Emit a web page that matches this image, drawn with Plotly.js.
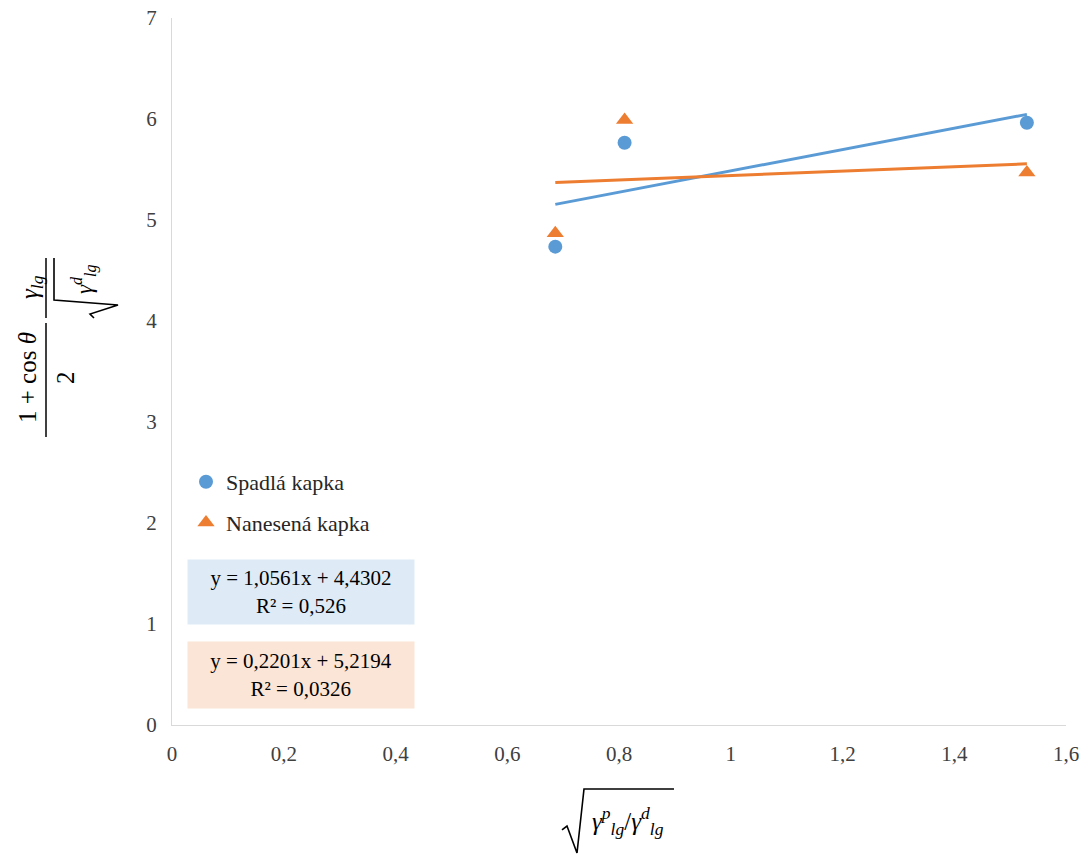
<!DOCTYPE html>
<html>
<head>
<meta charset="utf-8">
<script src="https://cdn.plot.ly/plotly-3.0.1.min.js"></script>
<style>html,body{margin:0;padding:0;background:#fff}#chart{width:1089px;height:859px}</style>
</head>
<body>
<div id="chart"></div>
<script>
// Data
const seriesNames = ["Spadlá kapka", "Nanesená kapka"];
const xSpadla = [0.686, 0.810, 1.530];
const ySpadla = [4.736, 5.765, 5.963];
const xNanesena = [0.686, 0.810, 1.530];
const yNanesena = [4.87, 5.99, 5.47];
// Trendline equations shown on the chart
const trendSlope = [1.0561, 0.2201];
const trendIntercept = [4.4302, 5.2194];
const trendLabels = ["y = 1,0561x + 4,4302<br>R² = 0,526", "y = 0,2201x + 5,2194<br>R² = 0,0326"];
const xTicks = [0, 0.2, 0.4, 0.6, 0.8, 1, 1.2, 1.4, 1.6];
const yTicks = [0, 1, 2, 3, 4, 5, 6, 7];

const colors = ["#5B9BD5", "#ED7D31"];
const boxColors = ["#DEEBF7", "#FBE5D6"];
const serif = "Liberation Serif";

function trendLine(xs, i) {
  const lo = Math.min(...xs), hi = Math.max(...xs);
  return {x: [lo, hi], y: [trendSlope[i] * lo + trendIntercept[i], trendSlope[i] * hi + trendIntercept[i]]};
}
const t0 = trendLine(xSpadla, 0), t1 = trendLine(xNanesena, 1);

const data = [
  {x: t0.x, y: t0.y, mode: "lines", line: {color: colors[0], width: 3}, showlegend: false, hoverinfo: "skip"},
  {x: t1.x, y: t1.y, mode: "lines", line: {color: colors[1], width: 3}, showlegend: false, hoverinfo: "skip"},
  {x: xSpadla, y: ySpadla, name: seriesNames[0], mode: "markers", legendgroup: "a",
   marker: {symbol: "circle", size: 14, color: colors[0]}},
  {x: xNanesena, y: yNanesena, name: seriesNames[1], mode: "markers", legendgroup: "b",
   marker: {symbol: "triangle-up", size: 15, color: colors[1]}}
];

// pixel -> paper helpers (plot area: x 172..1066, y 18..725)
const L = 172, R = 1066, T = 18, B = 725;
const px = p => (p - L) / (R - L);
const py = p => (B - p) / (B - T);

const mathFont = {family: serif, size: 25, color: "#000"};
function ann(x, y, text, extra) {
  return Object.assign({xref: "paper", yref: "paper", x: px(x), y: py(y), text: text, showarrow: false,
                        xanchor: "center", yanchor: "middle"}, extra || {});
}
const annotations = [
  ann(301, 592, trendLabels[0], {bgcolor: boxColors[0], width: 224, height: 62, align: "center",
      font: {family: serif, size: 21, color: "#000"}}),
  ann(301, 675, trendLabels[1], {bgcolor: boxColors[1], width: 224, height: 64, align: "center",
      font: {family: serif, size: 21, color: "#000"}}),
  // y-axis title (rotated fraction)
  ann(27, 378, "1 + cos <i>θ</i>", {textangle: -90, font: mathFont}),
  ann(65, 378, "2", {textangle: -90, font: mathFont}),
  ann(31, 287, "<i>γ</i><sub><i>lg</i></sub>", {textangle: -90, font: mathFont}),
  ann(84, 279, "<i>γ</i><sup><i>d</i></sup><sub><i>lg</i></sub>", {textangle: -90, font: {family: serif, size: 23, color: "#000"}}),
  // x-axis title
  ann(628, 821, "<i>γ</i><sup><i>p</i></sup><sub><i>lg</i></sub>/<i>γ</i><sup><i>d</i></sup><sub><i>lg</i></sub>",
      {font: {family: serif, size: 25, color: "#000"}})
];

// radical sign paths (pixel -> paper)
function pathOf(pts) {
  return pts.map((p, i) => (i ? "L" : "M") + px(p[0]).toFixed(5) + "," + py(p[1]).toFixed(5)).join(" ");
}
const shapes = [
  {type: "line", xref: "paper", yref: "paper", x0: px(46), x1: px(46), y0: py(323), y1: py(437), line: {color: "#000", width: 1.5}},
  {type: "line", xref: "paper", yref: "paper", x0: px(46), x1: px(46), y0: py(258), y1: py(318), line: {color: "#000", width: 1.5}},
  {type: "path", xref: "paper", yref: "paper", line: {color: "#000", width: 1.6},
   path: pathOf([[94, 318], [90, 314], [118, 305], [54, 300], [54, 258]])},
  {type: "path", xref: "paper", yref: "paper", line: {color: "#000", width: 1.6},
   path: pathOf([[562, 830], [567, 826], [577, 853], [584, 789], [674, 789]])}
];

const tickFont = {family: serif, size: 21, color: "#404040"};
const layout = {
  width: 1089, height: 859,
  margin: {l: L, r: 1089 - R, t: T, b: 859 - B},
  paper_bgcolor: "#fff", plot_bgcolor: "#fff",
  separators: ", ",
  font: {family: serif, size: 21, color: "#404040"},
  xaxis: {range: [0, 1.6], tickvals: xTicks, showgrid: false, zeroline: false,
          showline: true, linecolor: "#D9D9D9", linewidth: 1, ticks: "", ticklabelstandoff: 10,
          tickfont: tickFont, fixedrange: true},
  yaxis: {range: [0, 7], tickvals: yTicks, showgrid: false, zeroline: false,
          showline: true, linecolor: "#D9D9D9", linewidth: 1, ticks: "", ticklabelstandoff: 10,
          tickfont: tickFont, fixedrange: true},
  showlegend: true,
  legend: {x: px(186), y: py(461), xanchor: "left", yanchor: "top", bgcolor: "rgba(0,0,0,0)",
           font: {family: serif, size: 22, color: "#262626"}, tracegroupgap: 9, itemwidth: 30},
  annotations: annotations,
  shapes: shapes
};

Plotly.newPlot("chart", data, layout, {displayModeBar: false, staticPlot: true});
</script>
</body>
</html>
